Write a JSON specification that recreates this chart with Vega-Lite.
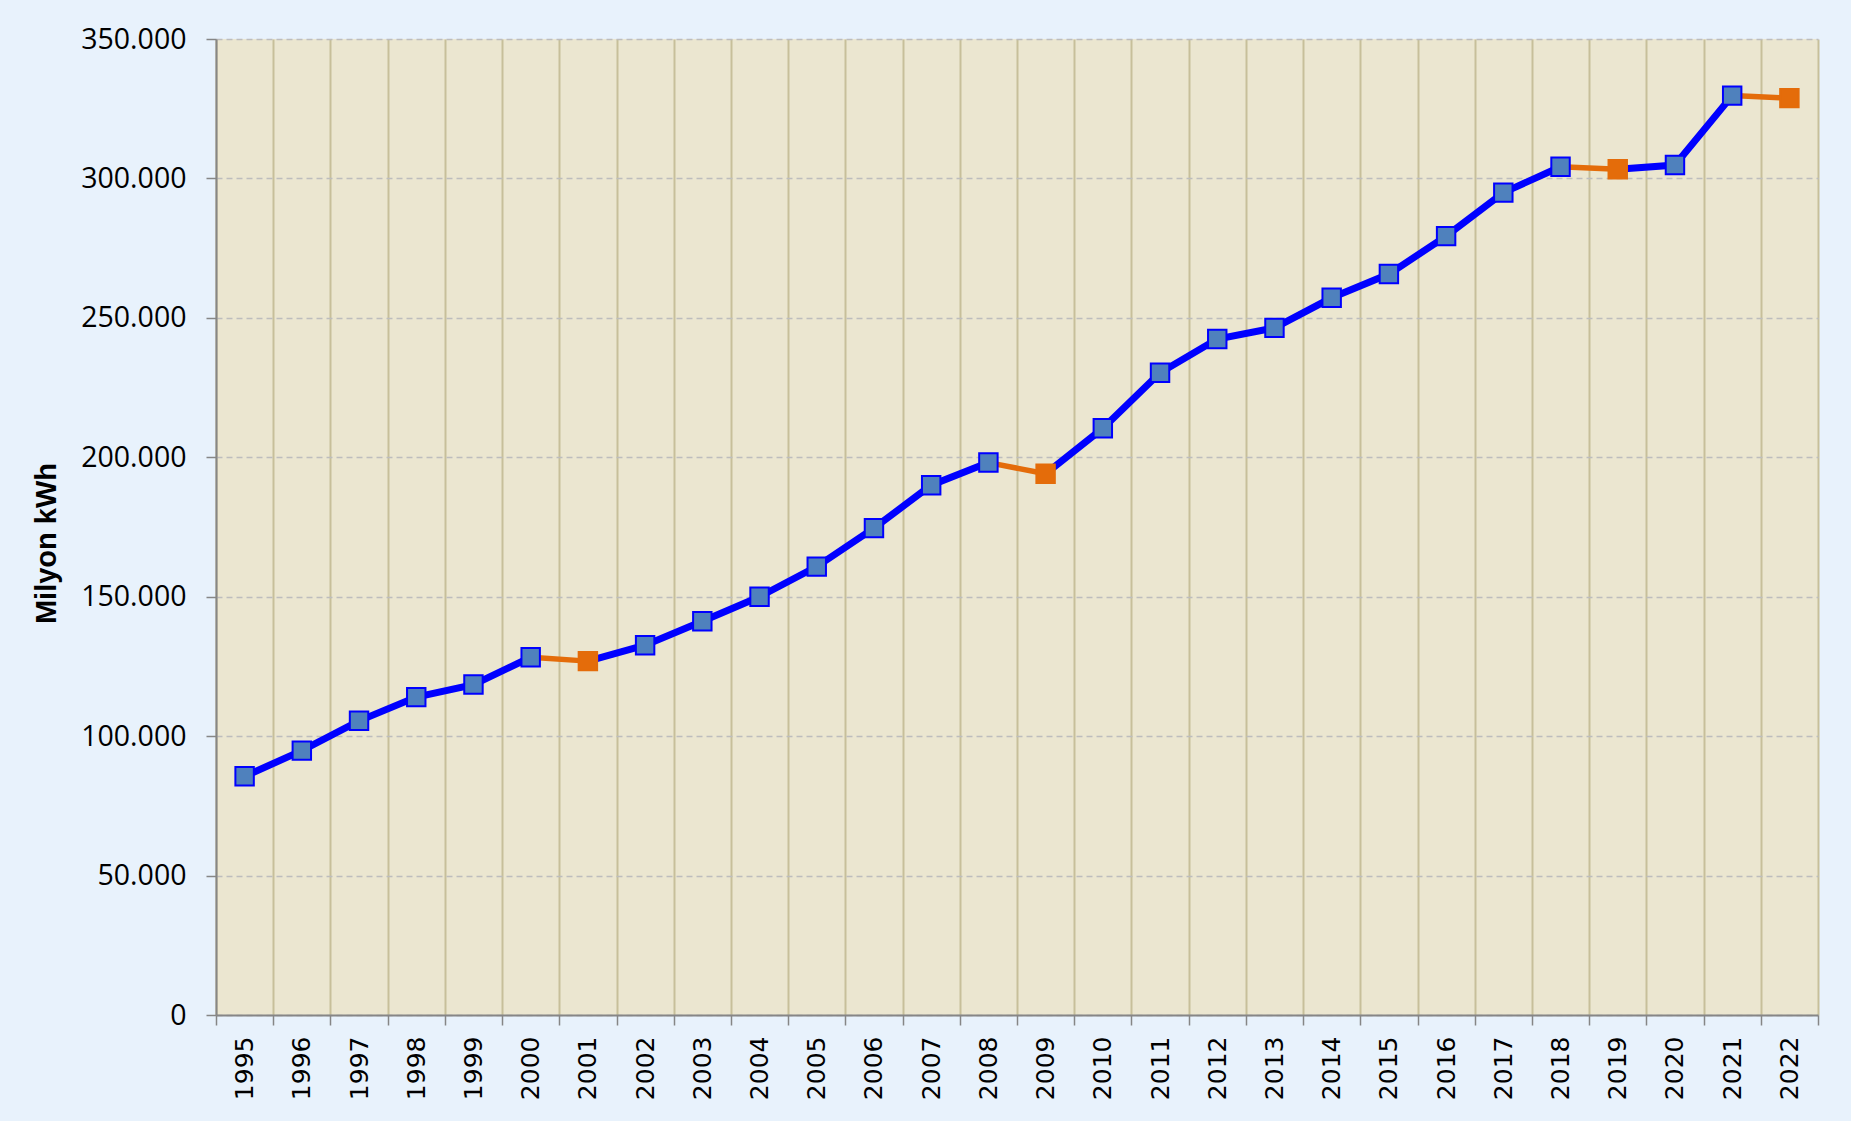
{
  "$schema": "https://vega.github.io/schema/vega-lite/v6.json",
  "width": 1602,
  "height": 976,
  "autosize": {"type": "none"},
  "padding": {"left": 216, "top": 39, "right": 33, "bottom": 106},
  "background": "#E8F2FC",
  "config": {
    "view": {"fill": "#EBE6D0", "stroke": null},
    "locale": {"number": {"decimal": ",", "thousands": ".", "grouping": [3], "currency": ["", " TL"]}}
  },
  "datasets": {
    "main": [
      {"year": 1995, "value": 85600, "type": "up", "run": "r1"},
      {"year": 1996, "value": 94800, "type": "up", "run": "r1"},
      {"year": 1997, "value": 105500, "type": "up", "run": "r1"},
      {"year": 1998, "value": 114000, "type": "up", "run": "r1"},
      {"year": 1999, "value": 118500, "type": "up", "run": "r1"},
      {"year": 2000, "value": 128300, "type": "up", "run": "r1"},
      {"year": 2001, "value": 126900, "type": "down", "run": "r2"},
      {"year": 2002, "value": 132600, "type": "up", "run": "r2"},
      {"year": 2003, "value": 141200, "type": "up", "run": "r2"},
      {"year": 2004, "value": 150000, "type": "up", "run": "r2"},
      {"year": 2005, "value": 160800, "type": "up", "run": "r2"},
      {"year": 2006, "value": 174600, "type": "up", "run": "r2"},
      {"year": 2007, "value": 190000, "type": "up", "run": "r2"},
      {"year": 2008, "value": 198100, "type": "up", "run": "r2"},
      {"year": 2009, "value": 194100, "type": "down", "run": "r3"},
      {"year": 2010, "value": 210400, "type": "up", "run": "r3"},
      {"year": 2011, "value": 230300, "type": "up", "run": "r3"},
      {"year": 2012, "value": 242400, "type": "up", "run": "r3"},
      {"year": 2013, "value": 246400, "type": "up", "run": "r3"},
      {"year": 2014, "value": 257200, "type": "up", "run": "r3"},
      {"year": 2015, "value": 265700, "type": "up", "run": "r3"},
      {"year": 2016, "value": 279300, "type": "up", "run": "r3"},
      {"year": 2017, "value": 294900, "type": "up", "run": "r3"},
      {"year": 2018, "value": 304200, "type": "up", "run": "r3"},
      {"year": 2019, "value": 303300, "type": "down", "run": "r4"},
      {"year": 2020, "value": 304800, "type": "up", "run": "r4"},
      {"year": 2021, "value": 329700, "type": "up", "run": "r4"},
      {"year": 2022, "value": 328800, "type": "down", "run": "r5"}
    ],
    "segs": [
      {"year": 2000, "value": 128300, "seg": "a"},
      {"year": 2001, "value": 126900, "seg": "a"},
      {"year": 2008, "value": 198100, "seg": "b"},
      {"year": 2009, "value": 194100, "seg": "b"},
      {"year": 2018, "value": 304200, "seg": "c"},
      {"year": 2019, "value": 303300, "seg": "c"},
      {"year": 2021, "value": 329700, "seg": "d"},
      {"year": 2022, "value": 328800, "seg": "d"}
    ]
  },
  "encoding": {
    "x": {
      "field": "year",
      "type": "ordinal",
      "bandPosition": 0.5,
      "scale": {"type": "band", "paddingInner": 0, "paddingOuter": 0},
      "axis": {
        "title": null,
        "tickBand": "extent",
        "labelAngle": -90,
        "labelFont": "DejaVu Sans",
        "labelFontSize": 25,
        "labelColor": "#000000",
        "labelPadding": 11,
        "tickSize": 10,
        "tickColor": "#868686",
        "tickWidth": 1.5,
        "domainColor": "#868686",
        "domainWidth": 2,
        "grid": true,
        "gridColor": "#C7BF9A",
        "gridWidth": 2,
        "gridOpacity": 1
      }
    },
    "y": {
      "field": "value",
      "type": "quantitative",
      "scale": {"domain": [0, 350000], "nice": false, "zero": true},
      "axis": {
        "values": [0, 50000, 100000, 150000, 200000, 250000, 300000, 350000],
        "format": ",d",
        "title": "Milyon kWh",
        "titleFont": "Liberation Sans",
        "titleFontWeight": "bold",
        "titleFontSize": 29,
        "titleColor": "#000000",
        "titleX": -170,
        "titleY": 504,
        "titleAngle": -90,
        "titleAlign": "center",
        "titleBaseline": "middle",
        "labelFont": "Open Sans",
        "labelFontSize": 28.5,
        "labelColor": "#000000",
        "labelPadding": 20,
        "tickSize": 10,
        "tickColor": "#868686",
        "tickWidth": 1.5,
        "domainColor": "#868686",
        "domainWidth": 2,
        "grid": true,
        "gridColor": "#BDBDBD",
        "gridDash": [6, 4],
        "gridWidth": 1.5,
        "gridOpacity": 1
      }
    }
  },
  "layer": [
    {
      "data": {"name": "main"},
      "mark": {"type": "line", "color": "#0000FF", "strokeWidth": 7},
      "encoding": {"detail": {"field": "run", "type": "nominal"}}
    },
    {
      "data": {"name": "segs"},
      "mark": {"type": "line", "color": "#E46C0A", "strokeWidth": 5.5},
      "encoding": {"detail": {"field": "seg", "type": "nominal"}}
    },
    {
      "data": {"name": "main"},
      "mark": {"type": "point", "shape": "square", "filled": true, "size": 340, "opacity": 1, "strokeWidth": 2},
      "encoding": {
        "fill": {"field": "type", "type": "nominal", "scale": {"domain": ["up", "down"], "range": ["#4F81BD", "#E46C0A"]}, "legend": null},
        "stroke": {"field": "type", "type": "nominal", "scale": {"domain": ["up", "down"], "range": ["#0000FF", "#E46C0A"]}, "legend": null}
      }
    }
  ]
}
